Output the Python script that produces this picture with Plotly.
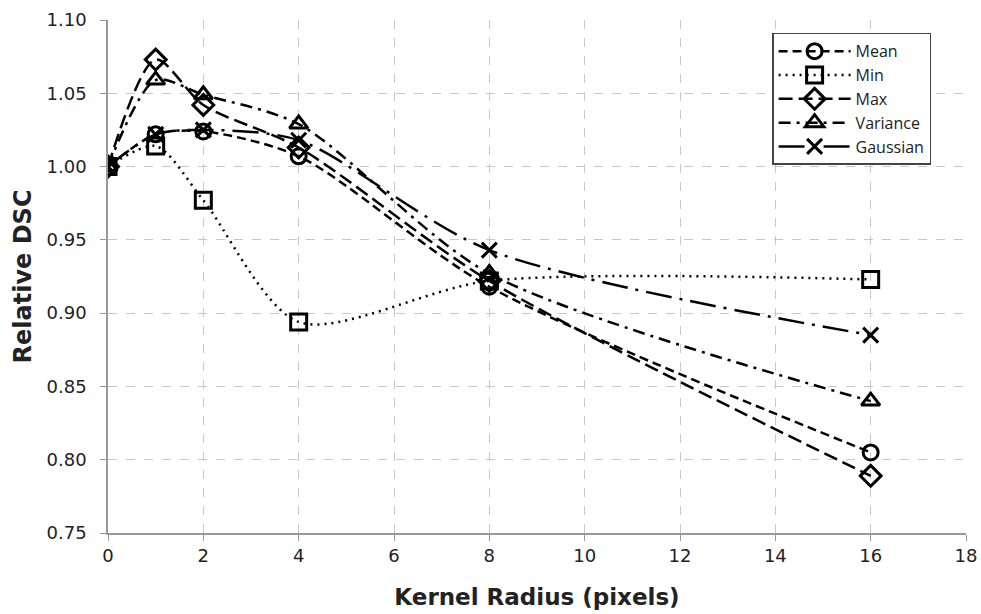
import plotly.graph_objects as go

radius = [0, 1, 2, 4, 8, 16]
mean_v = [1.000, 1.022, 1.024, 1.007, 0.918, 0.805]
min_v = [1.000, 1.014, 0.977, 0.894, 0.922, 0.923]
max_v = [1.000, 1.073, 1.042, 1.013, 0.922, 0.789]
var_v = [1.000, 1.059, 1.049, 1.029, 0.927, 0.840]
gauss_v = [1.000, 1.022, 1.025, 1.018, 0.943, 0.885]

series = [
    ("Mean", mean_v, "circle-open", "9px,5px", 15),
    ("Min", min_v, "square-open", "2px,5px", 16),
    ("Max", max_v, "diamond-open", "14px,6px", 16),
    ("Variance", var_v, "triangle-up-open", "12px,6px,3px,6px", 16),
    ("Gaussian", gauss_v, "x-thin", "26px,8px,3px,8px", 15),
]

fig = go.Figure()
for name, vals, sym, dash, size in series:
    fig.add_trace(go.Scatter(
        x=radius, y=vals, name=name, mode="lines+markers",
        line=dict(color="black", width=2.5, dash=dash, shape="spline", smoothing=0.8),
        marker=dict(symbol=sym, size=size, color="black",
                    line=dict(color="black", width=3)),
    ))

tick_font = dict(family="DejaVu Sans", size=18, color="#222")
fig.update_layout(
    width=981, height=614,
    margin=dict(l=108, r=15, t=20, b=81),
    paper_bgcolor="white", plot_bgcolor="white",
    font=dict(family="DejaVu Sans", color="#222"),
    legend=dict(x=0.774, y=0.975, xanchor="left", yanchor="top",
                bordercolor="#444", borderwidth=1.5, bgcolor="white",
                font=dict(family="Open Sans, Noto Sans", size=16, color="#222"),
                tracegroupgap=0, itemwidth=72),
    showlegend=True,
)
fig.update_xaxes(
    range=[0, 18], dtick=2, tick0=0, automargin=False,
    showgrid=True, gridcolor="#c8c8c8", griddash="dash", gridwidth=1,
    showline=True, linecolor="#999", linewidth=1.5,
    ticks="outside", ticklen=6, tickcolor="#999", ticklabeloverflow="allow",
    tickfont=tick_font, zeroline=False,
    title=dict(text="<b>Kernel Radius (pixels)</b>",
               font=dict(family="DejaVu Sans", size=23, color="#222"), standoff=24),
)
fig.update_yaxes(
    range=[0.75, 1.10], dtick=0.05, tick0=0.75, tickformat=".2f", automargin=False,
    showgrid=True, gridcolor="#c8c8c8", griddash="dash", gridwidth=1,
    showline=True, linecolor="#999", linewidth=1.5,
    ticks="outside", ticklen=6, tickcolor="#999", ticklabelstandoff=10,
    tickfont=tick_font, zeroline=False,
    title=dict(text="<b>Relative DSC</b>",
               font=dict(family="DejaVu Sans", size=24, color="#222"), standoff=8),
)

fig.write_html(
    "out.html",
    config={"displayModeBar": False},
    post_script="document.body.style.margin='0';document.body.style.overflow='hidden';",
)
